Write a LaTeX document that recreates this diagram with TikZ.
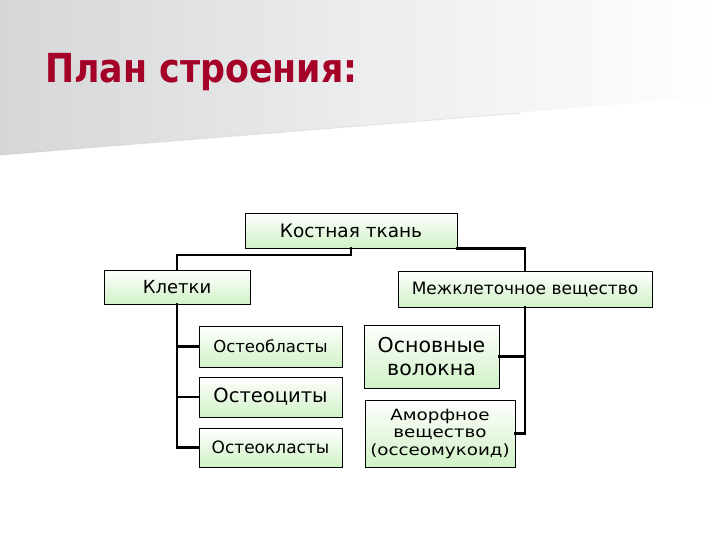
\documentclass[tikz,border=0pt]{standalone}
\usepackage{fontspec}
\setmainfont{DejaVu Sans}
\definecolor{titlered}{RGB}{165,0,40}
\definecolor{boxgreen}{RGB}{208,242,198}
\definecolor{bggray}{RGB}{212,214,216}
\begin{document}
\begin{tikzpicture}[x=1pt,y=-1pt,
  box/.style={draw=black, line width=0.8pt, top color=white, bottom color=boxgreen,
    inner sep=0pt, align=center, anchor=center},
  conn/.style={draw=black, line width=2.4pt, line cap=rect}]
\useasboundingbox (0,0) rectangle (720,540);
\fill[white] (0,0) rectangle (720,540);
% background band
\shade[left color=bggray, right color=white, middle color=bggray!45]
  (0,0) -- (720,0) -- (720,96) -- (0,155) -- cycle;
\draw[bggray!85!black, line width=1pt, opacity=0.35] (0,155) -- (520,113);
% title
\node[anchor=base west, inner sep=0pt, text=titlered, font=\bfseries\fontsize{40}{44}\selectfont]
  (title) at (45,83) {\scalebox{0.87}[1]{План строения:}};
% boxes
\node[box, minimum width=212pt, minimum height=35pt, font=\fontsize{18.5}{22}\selectfont]
  (kost) at (351,230.5) {Костная ткань};
\node[box, minimum width=146pt, minimum height=34pt, font=\fontsize{18}{22}\selectfont]
  (klet) at (177,287) {Клетки};
\node[box, minimum width=254pt, minimum height=36pt, font=\fontsize{17}{20}\selectfont]
  (mezh) at (525,289) {Межклеточное вещество};
\node[box, minimum width=143pt, minimum height=41pt, font=\fontsize{16.5}{20}\selectfont]
  (oblast) at (270.5,346.5) {Остеобласты};
\node[box, minimum width=143pt, minimum height=40pt, font=\fontsize{19.5}{22}\selectfont]
  (ocit) at (270.5,397) {Остеоциты};
\node[box, minimum width=143pt, minimum height=39pt, font=\fontsize{17}{20}\selectfont]
  (oklast) at (270.5,447.5) {Остеокласты};
\node[box, minimum width=135pt, minimum height=63pt, font=\fontsize{20.5}{23}\selectfont]
  (osn) at (431.5,356.5) {Основные\\волокна};
\node[box, minimum width=150pt, minimum height=67pt, font=\fontsize{15.5}{17.5}\selectfont]
  (amorf) at (440,433.5) {\scalebox{1.18}[1]{Аморфное}\\\scalebox{1.18}[1]{вещество}\\\scalebox{1.18}[1]{(оссеомукоид)}};
% connectors
\coordinate (kdrop) at ([yshift=-6.5pt]kost.south);
\draw[conn] (kost.south) -- (kdrop) -| (klet.north);
\draw[conn] (kost.south east) -| (mezh.north);
\draw[conn] (klet.south) |- (oklast.west);
\draw[conn] (klet.south |- oblast.west) -- (oblast.west);
\draw[conn] (klet.south |- ocit.west) -- (ocit.west);
\draw[conn] (mezh.south) |- (amorf.east);
\draw[conn] (mezh.south |- osn.east) -- (osn.east);
\end{tikzpicture}
\end{document}
